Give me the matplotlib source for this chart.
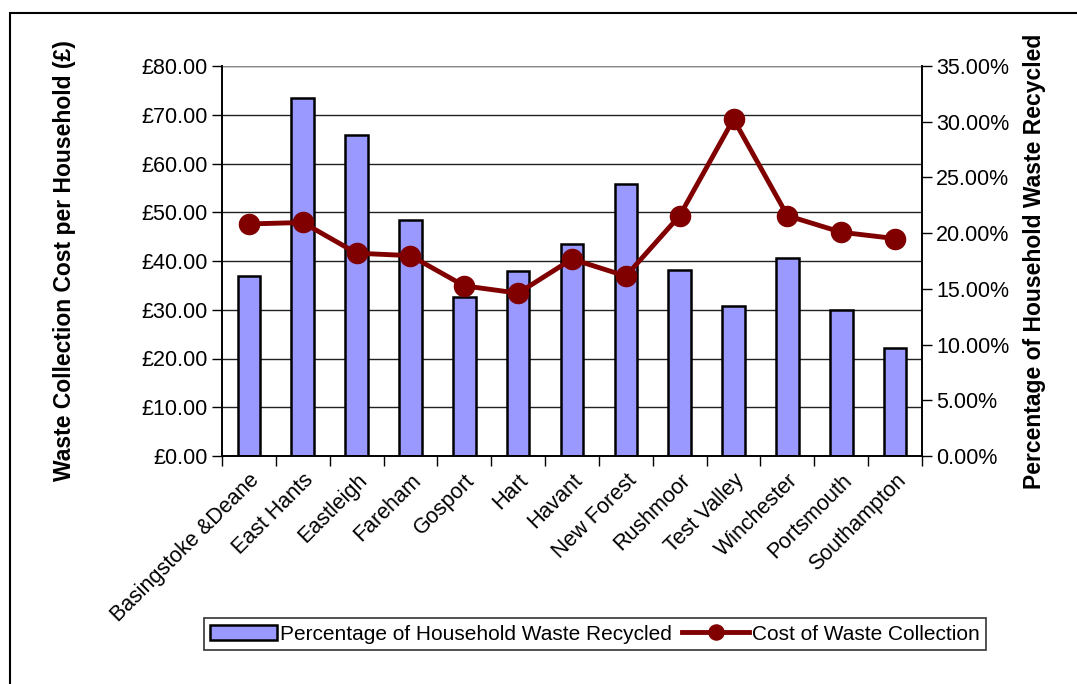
import matplotlib
matplotlib.use("Agg")
import matplotlib.pyplot as plt
from matplotlib.patches import Rectangle
from matplotlib.ticker import FuncFormatter, MultipleLocator
import numpy as np

plt.rcParams['font.family'] = ['Liberation Sans', 'DejaVu Sans']

categories = ["Basingstoke &Deane", "East Hants", "Eastleigh", "Fareham", "Gosport",
              "Hart", "Havant", "New Forest", "Rushmoor", "Test Valley",
              "Winchester", "Portsmouth", "Southampton"]
recycled_pct = [16.15, 32.1, 28.8, 21.2, 14.3, 16.6, 19.0, 24.4, 16.7, 13.5, 17.8, 13.1, 9.7]
cost_gbp = [47.6, 47.9, 41.6, 41.1, 34.9, 33.4, 40.4, 36.9, 49.3, 69.1, 49.3, 45.9, 44.6]

W, H = 1077, 684
fig = plt.figure(figsize=(W / 100, H / 100), dpi=100)

# outer frame (top and left visible)
fig.patches.append(Rectangle((10 / W, -0.1), 1.2, (H - 13) / H + 0.1, transform=fig.transFigure,
                             fill=False, edgecolor='black', linewidth=1.5, zorder=0))

ax = fig.add_axes([222 / W, 1 - 456 / H, 700 / W, 390 / H])
ax2 = ax.twinx()

x = np.arange(len(categories))
bars = ax2.bar(x, recycled_pct, width=0.42, color='#9999FF', edgecolor='black', linewidth=1.8,
               label='Percentage of Household Waste Recycled', zorder=2)
line, = ax.plot(x, cost_gbp, color='#800000', linewidth=3.5, marker='o', markersize=14.5,
                label='Cost of Waste Collection', zorder=5)

ax.set_zorder(ax2.get_zorder() + 1)
ax.patch.set_visible(False)

ax.set_xlim(-0.5, len(categories) - 0.5)
ax.set_ylim(0, 80)
ax2.set_ylim(0, 35)
ax.yaxis.set_major_locator(MultipleLocator(10))
ax2.yaxis.set_major_locator(MultipleLocator(5))
ax.yaxis.set_major_formatter(FuncFormatter(lambda v, p: f"£{v:.2f}"))
ax2.yaxis.set_major_formatter(FuncFormatter(lambda v, p: f"{v:.2f}%"))

# gridlines on the bar axis (so they sit behind the bars)
for v in range(10, 90, 10):
    ax2.axhline(v * 35 / 80, color='#222222', linewidth=1.0, zorder=1)
ax2.axhline(35, color='#888888', linewidth=1.6, zorder=1)

ax.set_xticks(x)
ax.set_xticklabels(categories, rotation=45, ha='right', rotation_mode='anchor', fontsize=15.5)
ax.set_xticks(np.arange(-0.5, len(categories), 1), minor=True)
ax.tick_params(axis='x', which='major', length=0, pad=10)
ax.tick_params(axis='x', which='minor', length=7, width=1, direction='out')
ax.tick_params(axis='y', labelsize=15.5, length=7, width=1, direction='out', pad=3)
ax2.tick_params(axis='y', labelsize=15.5, length=7, width=1, direction='out', pad=3)

for a in (ax, ax2):
    a.spines['top'].set_visible(False)
    for s in ('left', 'right', 'bottom'):
        a.spines[s].set_linewidth(1.2)
        a.spines[s].set_color('black')

ax.set_ylabel('Waste Collection Cost per Household (£)', fontsize=16.5, fontweight='bold')
ax2.set_ylabel('Percentage of Household Waste Recycled', fontsize=16.5, fontweight='bold')
ax.yaxis.set_label_coords((65 - 222) / 700, 0.5)
ax2.yaxis.set_label_coords((1035 - 222) / 700, 0.5)
ax.yaxis.label.set_va('center')
ax2.yaxis.label.set_va('center')

leg = fig.legend(handles=[bars, line], labels=[bars.get_label(), line.get_label()],
                 loc='center', bbox_to_anchor=(595 / W, 1 - 634 / H), ncol=2, fontsize=15,
                 frameon=True, fancybox=False, edgecolor='black', handlelength=3.2,
                 handletextpad=0.15, columnspacing=0.5, borderpad=0.3, markerscale=0.75)
leg.get_frame().set_linewidth(1.2)

fig.savefig('out.png', dpi=100)
